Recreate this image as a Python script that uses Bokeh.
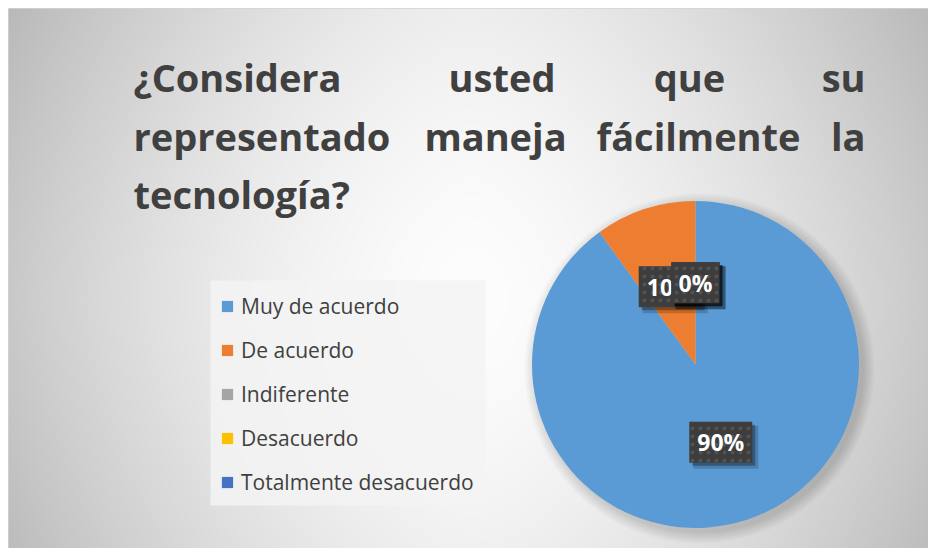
import numpy as np
from bokeh.plotting import figure
from bokeh.models import ColumnDataSource, Legend, LegendItem, Label
from bokeh.core.properties import value
from bokeh.embed import file_html
from bokeh.resources import INLINE

# ---- data ----
categories = ["Muy de acuerdo", "De acuerdo", "Indiferente", "Desacuerdo", "Totalmente desacuerdo"]
percentages = [90, 10, 0, 0, 0]
colors = ["#5B9BD5", "#ED7D31", "#A5A5A5", "#FFC000", "#4472C4"]
title_lines = [["¿Considera", "usted", "que", "su"],
               ["representado", "maneja", "fácilmente", "la"],
               ["tecnología?"]]

W, H = 920, 540
p = figure(width=W + 8, height=H + 8, output_backend="svg", toolbar_location=None,
           x_range=(0, W), y_range=(0, H), min_border=0,
           min_border_left=8, min_border_top=8)
p.axis.visible = False
p.grid.visible = False
p.outline_line_color = "#d4d4d4"
p.background_fill_color = "#e6e6e6"
p.border_fill_color = "#ffffff"

# ---- background radial gradient (style only) ----
yy, xx = np.mgrid[0:H, 0:W]
nx = (xx - 462) / 460.0
ny = (yy - 250) / 270.0
drop = 52 * np.abs(nx) ** 1.6 + 14 * np.abs(ny) ** 1.6
v = np.clip(253 - drop, 0, 255).astype(np.uint32)
img = (255 << 24) | (v << 16) | (v << 8) | v
p.image_rgba(image=[img.astype(np.uint32)], x=0, y=0, dw=W, dh=H)

# ---- pie ----
cx, cy, R = 687, 184, 163.5
pct = np.array(percentages, dtype=float)
frac = pct / pct.sum()
cum = np.cumsum(frac)
starts = np.concatenate([[0.0], cum[:-1]])
start_ang = np.pi / 2 - 2 * np.pi * starts
end_ang = np.pi / 2 - 2 * np.pi * cum

# soft shadow
for k in range(12):
    p.circle(x=cx + 4, y=cy - 4, radius=R + 12 - k, fill_color="black",
             fill_alpha=0.012, line_color=None)

nz = pct > 0
pie_src = ColumnDataSource(dict(cat=[c for c, m in zip(categories, nz) if m],
                                color=[c for c, m in zip(colors, nz) if m],
                                start=start_ang[nz], end=end_ang[nz]))
p.wedge(x=cx, y=cy, radius=R, start_angle="start", end_angle="end",
        direction="clock", fill_color="color", line_color=None, source=pie_src)

# legend-only renderer (all categories)
leg_src = ColumnDataSource(dict(cat=categories, color=colors, start=start_ang, end=end_ang))
leg_r = p.wedge(x=cx, y=cy, radius=0, start_angle="start", end_angle="end",
                direction="clock", fill_color="color", line_color=None, source=leg_src)

# ---- data labels ----
mid = (start_ang + end_ang) / 2
lab_x = cx + 0.5 * R * np.cos(mid)
lab_y = cy + 0.5 * R * np.sin(mid)
texts = [f"{v}%" for v in percentages]
bw = [15 * len(t) + 18 for t in texts]
for i in range(len(texts)):
    p.rect(x=lab_x[i] + 5, y=lab_y[i] - 5, width=bw[i] + 2, height=43, fill_color="black",
           fill_alpha=0.18, line_color=None)
    p.rect(x=lab_x[i] + 3, y=lab_y[i] - 3, width=bw[i], height=41, fill_color="black",
           fill_alpha=0.3, line_color=None)
    p.rect(x=lab_x[i], y=lab_y[i], width=bw[i], height=41, fill_color="#3d3d3d",
           line_color=None, hatch_pattern="dot", hatch_color="#525252",
           hatch_scale=8, hatch_weight=1.2)
    p.text(x=[lab_x[i]], y=[lab_y[i]], text=[texts[i]], text_color="white",
           text_font=value("Open Sans"), text_font_style="bold", text_font_size="23px",
           text_align="center", text_baseline="middle")

# ---- legend ----
p.quad(left=202, right=477, bottom=43, top=268, fill_color="#f3f3f3",
       fill_alpha=0.85, line_color=None)
items = [LegendItem(label=c, renderers=[leg_r], index=i) for i, c in enumerate(categories)]
legend = Legend(items=items, location=(212, 52), label_text_font="Open Sans",
                label_text_font_size="21px", label_text_color="#404040",
                glyph_width=14, glyph_height=14, label_standoff=7, padding=10,
                spacing=16, background_fill_alpha=0.0,
                border_line_color=None, margin=0)
p.add_layout(legend)

# ---- title (justified) ----
baselines = [472, 413, 355]
left_x, right_x = 125, 857
mid_centers = [[493.5, 681], [487, 690], []]
for li, words in enumerate(title_lines):
    for wi, w in enumerate(words):
        if wi == 0:
            x, align = left_x, "left"
        elif wi == len(words) - 1:
            x, align = right_x, "right"
        else:
            x, align = mid_centers[li][wi - 1], "center"
        p.add_layout(Label(x=x, y=baselines[li], text=w, text_font="Open Sans",
                           text_font_style="bold", text_font_size="38px",
                           text_color="#404040", text_align=align,
                           text_baseline="alphabetic"))

open("out.html", "w").write(file_html(p, INLINE))
